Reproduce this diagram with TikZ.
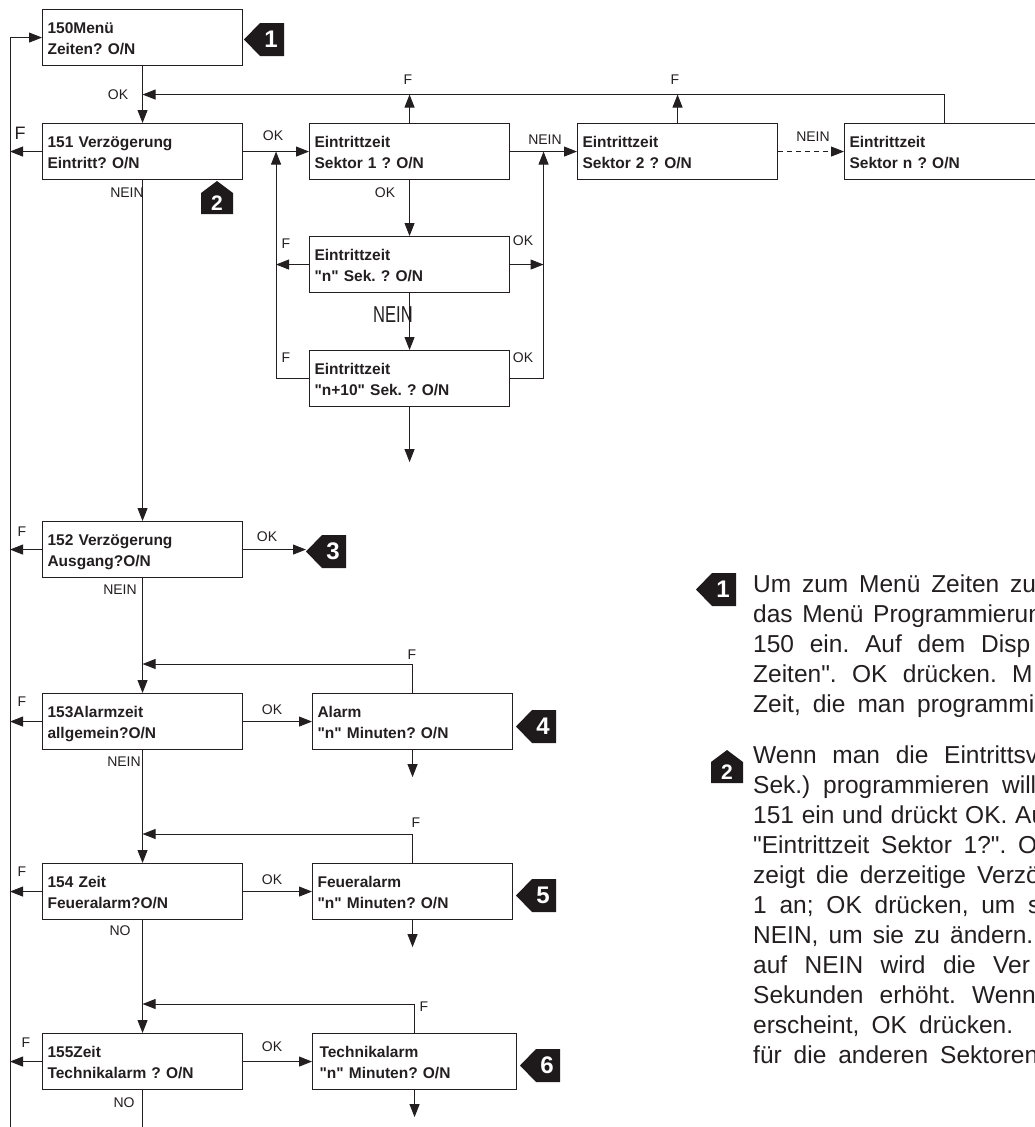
\documentclass[tikz,border=0pt]{standalone}
\usepackage{fontspec}
\setmainfont{Liberation Sans}
\newfontfamily\sans{Liberation Sans}
\newfontfamily\boxfont{Liberation Sans}[WordSpace=0.65]
\usetikzlibrary{arrows.meta,calc}
\frenchspacing

\definecolor{ink}{HTML}{231F20}
\definecolor{tagfill}{HTML}{1E1A1B}

\begin{document}
\begin{tikzpicture}[
  x=1pt, y=-1pt,
  line join=miter,
  wire/.style={draw=ink, line width=0.9pt},
  arr/.style={wire, -{Triangle[length=13pt,width=10pt]}},
  box/.style={draw=ink, line width=1.1pt, anchor=north west,
    minimum width=200pt, minimum height=56pt, inner xsep=5pt, inner ysep=0pt,
    text width=190pt, align=left, text=ink, text height=17pt, text depth=25pt,
    font=\boxfont\bfseries\fontsize{15.5}{21}\selectfont},
  lbl/.style={font=\sans\fontsize{14}{14}\selectfont, text=ink, inner sep=0pt},
  bigl/.style={font=\sans\fontsize{18}{18}\selectfont, text=ink, inner sep=0pt},
  tagnum/.style={font=\sans\bfseries\fontsize{24}{24}\selectfont, text=white, inner sep=0pt},
  body/.style={font=\sans\fontsize{24.5}{30}\selectfont, text=ink, inner sep=0pt, anchor=base west},
]
\useasboundingbox (0,0) rectangle (1034,1127);

% ── the menu boxes on the left ────────────────────────────────────────────
\node[box] (b150) at (42,9)    {150Menü\\Zeiten? O/N};
\node[box] (b151) at (42,123)  {151 Verzögerung\\Eintritt? O/N};
\node[box] (b152) at (42,521)  {152 Verzögerung\\Ausgang?O/N};
\node[box] (b153) at (42,693)  {153Alarmzeit\\allgemein?O/N};
\node[box] (b154) at (42,863)  {154 Zeit\\Feueralarm?O/N};
\node[box] (b155) at (42,1033) {155Zeit\\Technikalarm ? O/N};

% ── the sectors of 151 ────────────────────────────────────────────────────
\node[box] (s1)   at (309,123) {Eintrittzeit\\Sektor 1 ? O/N};
\node[box] (s2)   at (577,123) {Eintrittzeit\\Sektor 2 ? O/N};
\node[box] (sn)   at (844,123) {Eintrittzeit\\Sektor n ? O/N};
\node[box] (nsek) at (309,236) {Eintrittzeit\\"n" Sek. ? O/N};
\node[box] (n10)  at (309,350) {Eintrittzeit\\"n+10" Sek. ? O/N};

% ── the alarm times ───────────────────────────────────────────────────────
\node[box] (alarm)   at (312,693)  {Alarm\\"n" Minuten? O/N};
\node[box] (feuer)   at (312,863)  {Feueralarm\\"n" Minuten? O/N};
\node[box, inner xsep=7pt] (technik) at (312,1033) {Technikalarm\\"n" Minuten? O/N};

% the return line on the far left
\coordinate (back) at (10,1127);
\draw[arr] (back) |- (b150.west);
\foreach \b in {b151,b152,b153,b154,b155}
  \draw[arr] (\b.west) -- (\b.west -| back);

% down the left column
\draw[arr] (b150.south) -- (b151.north);
\draw[arr] (b151.south) -- (b152.north);
\draw[arr] (b152.south) -- (b153.north);
\draw[arr] (b153.south) -- (b154.north);
\draw[arr] (b154.south) -- (b155.north);
\draw[wire] (b155.south) -- (b155.south |- back);

% sectors: OK, NEIN and the F loop back above 151
\coordinate (fback) at ($(b150.south)!0.5!(b151.north)$);
\coordinate (j1) at ($(b151.east)!0.5!(s1.west)$);
\coordinate (j2) at ($(s1.east)!0.5!(s2.west)$);
\draw[arr] (b151.east) -- (s1.west);
\draw[arr] (s1.east) -- (s2.west);
\draw[arr, dash pattern=on 5pt off 4pt] (s2.east) -- (sn.west);
\draw[arr] (sn.north) |- (fback);
\draw[arr] (s1.north) -- (s1.north |- fback);
\draw[arr] (s2.north) -- (s2.north |- fback);
\draw[arr] (s1.south) -- (nsek.north);
\draw[arr] (nsek.south) -- (n10.north);
\draw[arr] (n10.south) -- ++(0,55);
\draw[arr] (nsek.west) -- (nsek.west -| j1);
\draw[arr] (nsek.east) -- (nsek.east -| j2);
\draw[arr] (n10.west) -| (j1);
\draw[arr] (n10.east) -| (j2);

% alarm times: OK to the right, F back above the next menu
\foreach \m/\t in {b153/alarm, b154/feuer, b155/technik} {
  \draw[arr] (\m.east) -- (\t.west);
  \draw[arr] (\t.south) -- ++(0,27);
  \draw[arr] (\t.north) |- ($(\m.north)+(0,-29)$);
}

% ── the black tags ────────────────────────────────────────────────────────
\foreach \x/\y/\n/\nm in {244/23/1/a, 306/535/3/c, 516/710/4/d, 516/879/5/e, 520/1049/6/f, 696/573/1/g} {
  \coordinate (tip\nm) at (\x,\y+16.5);
  \fill[tagfill] (tip\nm) -- ++(16,-16.5) -- ++(24,0) -- ++(0,33) -- ++(-24,0) -- cycle;
  \node[tagnum] (tag\nm) at (\x+27,\y+16.5) {\n};
}
\foreach \x/\y/\nm in {201/181/b, 711/750/h} {
  \fill[tagfill] (\x,\y+12) -- ++(16,-12) -- ++(16,12) -- ++(0,21) -- ++(-32,0) -- cycle;
  \node[tagnum, font=\sans\bfseries\fontsize{21}{21}\selectfont] (tag\nm) at (\x+16,\y+22) {2};
}
\draw[arr] (b152.east) -- (b152.east -| tipc);

% ── labels on the connectors ──────────────────────────────────────────────
\foreach \x/\y/\t [count=\k] in {118/95/OK, 273/136/OK, 127/193/NEIN, 408/80/F, 675/80/F,
    545/140/NEIN, 813/137/NEIN, 385/193/OK, 286/244/F, 523/241/OK, 286/358/F, 523/358/OK,
    22/532/F, 267/537/OK, 120/590/NEIN, 412/655/F, 22/702/F, 272/710/OK, 124/762/NEIN,
    416/823/F, 22/872/F, 272/880/OK, 120/931/NO, 424/1007/F, 26/1043/F, 272/1047/OK, 124/1103/NO}
  \node[lbl] (lab\k) at (\x,\y) {\t};
\node[bigl] (fbig) at (20,133) {F};
\node[lbl, font=\sans\fontsize{23}{23}\selectfont] (neinbig) at (393,315) {\scalebox{0.72}[1]{NEIN}};

% ── the notes on the right, cut off at the edge ───────────────────────────
\foreach \t/\w [count=\i from 0] in {
    {Um zum Menü Zeiten \rlap{zu}}/257,
    {das Menü \rlap{Programmierun}}/120,
    {150 ein. Auf dem \rlap{Disp}}/228,
    {Zeiten". OK drücken. \rlap{M}}/259,
    {Zeit, die man \rlap{programmi}}/164}
  \node[body] (pa\i) at (753,{592+30*\i}) {\makebox[\w pt][s]{\t}};
\foreach \t/\w [count=\i from 0] in {
    {Wenn man die \rlap{Eintrittsv}}/191,
    {Sek.) programmieren \rlap{will}}/249,
    {151 ein und drückt OK. \rlap{Au}}/262,
    {"Eintrittzeit Sektor 1?". \rlap{O}}/265,
    {zeigt die derzeitige \rlap{Verzö}}/224,
    {1 an; OK drücken, um \rlap{s}}/275,
    {NEIN, um sie zu \rlap{ändern.}}/197,
    {auf NEIN wird die \rlap{Ver}}/240,
    {Sekunden erhöht. \rlap{Wenn}}/219,
    {erscheint, OK \rlap{drücken.}}/166,
    {für die anderen \rlap{Sektoren}}/187}
  \node[body] (pb\i) at (753,{763+30*\i}) {\makebox[\w pt][s]{\t}};

\end{tikzpicture}
\end{document}
